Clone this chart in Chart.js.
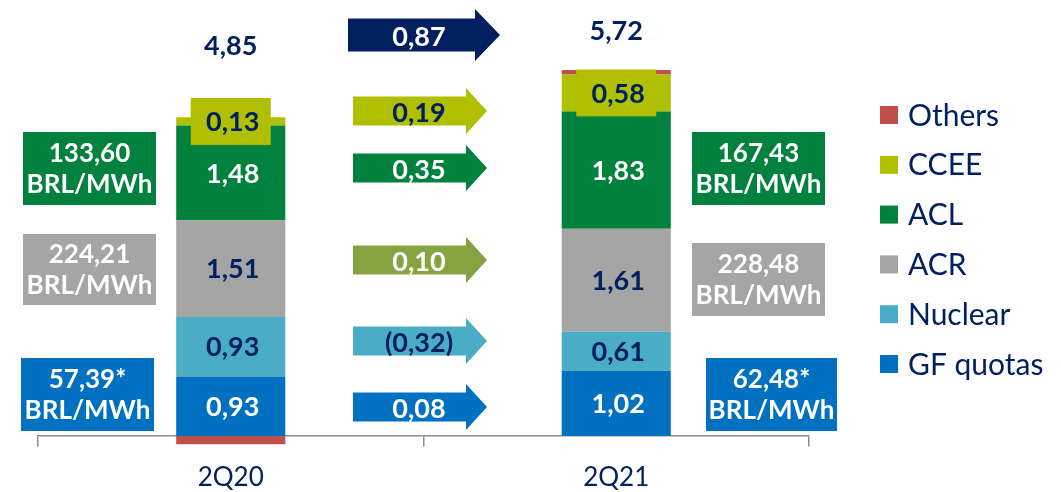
<!DOCTYPE html>
<html>
<head>
<meta charset="utf-8">
<script src="https://cdn.jsdelivr.net/npm/chart.js@4.4.1/dist/chart.umd.min.js"></script>
<style>
  html, body { margin: 0; padding: 0; background: #fff; }
  #wrap { width: 1061px; height: 492px; position: relative; }
</style>
</head>
<body>
<div id="wrap"><canvas id="chart"></canvas></div>
<script>
// ---- data ----
const categories = ['2Q20', '2Q21'];
const gfQuotas = [0.93, 1.02];
const nuclear  = [0.93, 0.61];
const acr      = [1.51, 1.61];
const acl      = [1.48, 1.83];
const ccee     = [0.13, 0.58];
const others   = [-0.13, 0.07];
const totals   = [4.85, 5.72];
// variation 2Q20 -> 2Q21 : GF quotas, Nuclear, ACR, ACL, CCEE
const deltas = [0.08, -0.32, 0.10, 0.35, 0.19];
const totalDelta = 0.87;
// BRL/MWh : GF quotas (*), ACR, ACL
const prices2Q20 = [57.39, 224.21, 133.60];
const prices2Q21 = [62.48, 228.48, 167.43];

// ---- styles ----
const NAVY = '#002060';
const FONT = 'Lato, "Open Sans", sans-serif';
const SERIES = [
    { label: 'GF quotas', data: gfQuotas, color: '#0070C0', text: '#ffffff' },
    { label: 'Nuclear',   data: nuclear,  color: '#4BACC6', text: NAVY },
    { label: 'ACR',       data: acr,      color: '#A5A5A5', text: NAVY },
    { label: 'ACL',       data: acl,      color: '#00813D', text: '#ffffff' },
    { label: 'CCEE',      data: ccee,     color: '#B0BF00', text: NAVY, boxed: true },
    { label: 'Others',    data: others,   color: '#C0504D', text: null },
];
const ARROW_STYLE = [
    { color: '#0070C0', text: '#ffffff', y: 407 },
    { color: '#4BACC6', text: NAVY,      y: 341 },
    { color: '#85A33F', text: '#ffffff', y: 260 },
    { color: '#00813D', text: '#ffffff', y: 168 },
    { color: '#B0BF00', text: NAVY,      y: 111 },
];
const PRICE_BOXES = [
    // [left, top, width, height] for 2Q20 then 2Q21, order GF, ACR, ACL
    [[21, 358, 133, 73], [23, 234, 133, 71], [23, 132, 133, 73]],
    [[706, 358, 131, 73], [692, 243, 133, 73], [692, 132, 133, 73]],
];
const PRICE_COLORS = ['#0070C0', '#A5A5A5', '#00813D'];
const TOTAL_Y = [46, 31];

const fmt = v => {
    const s = Math.abs(v).toFixed(2).replace('.', ',');
    return v < 0 ? '(' + s + ')' : s;
};

function drawArrow(ctx, x0, x1, tip, yc, bodyH, headH, color) {
    ctx.fillStyle = color;
    ctx.beginPath();
    ctx.moveTo(x0, yc - bodyH / 2);
    ctx.lineTo(x1, yc - bodyH / 2);
    ctx.lineTo(x1, yc - headH / 2);
    ctx.lineTo(tip, yc);
    ctx.lineTo(x1, yc + headH / 2);
    ctx.lineTo(x1, yc + bodyH / 2);
    ctx.lineTo(x0, yc + bodyH / 2);
    ctx.closePath();
    ctx.fill();
}

const annotations = {
    id: 'annotations',
    afterDatasetsDraw(chart) {
        const ctx = chart.ctx;
        ctx.save();
        ctx.textAlign = 'center';
        ctx.textBaseline = 'middle';

        // segment values
        SERIES.forEach((s, di) => {
            if (!s.text) return;
            chart.getDatasetMeta(di).data.forEach((bar, i) => {
                const yc = (bar.y + bar.base) / 2;
                if (s.boxed) {
                    ctx.fillStyle = s.color;
                    ctx.fillRect(bar.x - 40, yc - 23.5, 80, 47);
                }
                ctx.fillStyle = s.text;
                ctx.font = 'bold 27px ' + FONT;
                ctx.fillText(fmt(s.data[i]), bar.x + 2, yc + 1);
            });
        });

        // totals
        const meta0 = chart.getDatasetMeta(0);
        totals.forEach((t, i) => {
            ctx.fillStyle = NAVY;
            ctx.font = 'bold 27px ' + FONT;
            ctx.fillText(fmt(t), meta0.data[i].x, TOTAL_Y[i]);
        });

        // price boxes
        [prices2Q20, prices2Q21].forEach((prices, ci) => {
            prices.forEach((p, k) => {
                const [l, t, w, h] = PRICE_BOXES[ci][k];
                ctx.fillStyle = PRICE_COLORS[k];
                ctx.fillRect(l, t, w, h);
                ctx.fillStyle = '#ffffff';
                ctx.font = 'bold 26px ' + FONT;
                ctx.fillText(fmt(p) + (k === 0 ? '*' : ''), l + w / 2, t + h / 2 - 15);
                ctx.fillText('BRL/MWh', l + w / 2, t + h / 2 + 16);
            });
        });

        // variation arrows
        drawArrow(ctx, 348, 475, 500, 35, 33, 52, NAVY);
        ctx.fillStyle = '#ffffff';
        ctx.font = 'bold 27px ' + FONT;
        ctx.fillText(fmt(totalDelta), 419, 37);
        deltas.forEach((d, k) => {
            const a = ARROW_STYLE[k];
            drawArrow(ctx, 353, 466, 487, a.y, 29, 46, a.color);
            ctx.fillStyle = a.text;
            ctx.font = 'bold 27px ' + FONT;
            ctx.fillText(fmt(d), 419, a.y + 2);
        });

        ctx.restore();
    },
    afterDraw(chart) {
        // legend, top to bottom = reverse of stack order
        const ctx = chart.ctx;
        ctx.save();
        ctx.textBaseline = 'middle';
        ctx.textAlign = 'left';
        ctx.font = '30px ' + FONT;
        const ds = chart.data.datasets;
        for (let k = 0; k < ds.length; k++) {
            const d = ds[ds.length - 1 - k];
            const yc = 115 + k * 49.8;
            ctx.fillStyle = d.backgroundColor;
            ctx.fillRect(880, yc - 9, 18, 18);
            ctx.fillStyle = NAVY;
            ctx.fillText(d.label, 908, yc + 1);
        }
        ctx.restore();
    },
};

new Chart(document.getElementById('chart'), {
    type: 'bar',
    data: {
        labels: categories,
        datasets: SERIES.map(s => ({
            label: s.label,
            data: s.data,
            backgroundColor: s.color,
            borderWidth: 0,
            barPercentage: 0.283,
            categoryPercentage: 1,
        })),
    },
    options: {
        responsive: true,
        maintainAspectRatio: false,
        animation: false,
        layout: { padding: { left: 38, right: 252, top: 20, bottom: 0 } },
        plugins: { legend: { display: false }, tooltip: { enabled: false } },
        scales: {
            x: {
                stacked: true,
                position: { y: 0 },
                z: 1,
                grid: {
                    offset: true,
                    drawOnChartArea: false,
                    drawTicks: true,
                    tickLength: 10,
                    color: '#8C8C8C',
                    lineWidth: 1.5,
                },
                border: { display: true, color: '#8C8C8C', width: 1.5 },
                ticks: { color: NAVY, font: { family: FONT, size: 26 }, padding: 16 },
            },
            y: {
                stacked: true,
                display: false,
                min: -0.875,
                max: 6.5,
            },
        },
    },
    plugins: [annotations],
});
</script>
</body>
</html>
